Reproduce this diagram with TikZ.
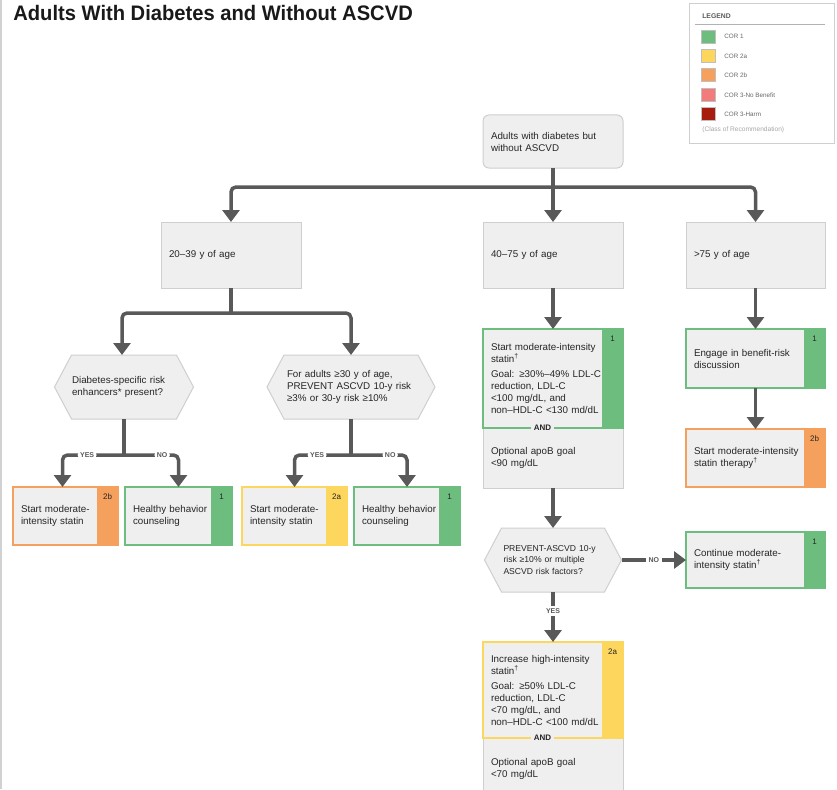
\documentclass[tikz,border=0pt]{standalone}
\usepackage{fontspec}
\setmainfont{Liberation Sans}
\newfontfamily\titlefont[FakeStretch=0.96]{Liberation Sans}
\usetikzlibrary{positioning,arrows.meta,shapes.symbols}

\definecolor{boxfill}{HTML}{EFEFEF}
\definecolor{boxline}{HTML}{CFCFCF}
\definecolor{flowgray}{HTML}{595959}
\definecolor{corone}{HTML}{6DBE7E}
\definecolor{cortwoa}{HTML}{FDD65E}
\definecolor{cortwob}{HTML}{F6A05D}
\definecolor{cornb}{HTML}{F27B7B}
\definecolor{corharm}{HTML}{A71C0C}

\newcommand{\dagmark}{\textsuperscript{†}}

\begin{document}
\begin{tikzpicture}[x=1pt, y=-1pt,
  every node/.style={outer sep=0pt, font=\fontsize{9.8}{12}\selectfont, text=black!85},
  plain/.style={draw=boxline, fill=boxfill, line width=1pt, minimum width=140pt,
    text width=124pt, align=left, inner xsep=8pt, anchor=north west},
  corlbl/.style={anchor=north, xshift=-10.5pt, yshift=-6pt, inner sep=1pt,
    font=\fontsize{8}{9}\selectfont},
  cor/.style n args={2}{draw=#1, fill=boxfill, line width=1.4pt, minimum width=139pt,
    text width=123pt, align=left, inner xsep=8pt, anchor=north west,
    label={[corlbl]north east:#2},
    path picture={
      \fill[#1] ([xshift=-21pt]path picture bounding box.north east)
        rectangle (path picture bounding box.south east);}},
  hexa/.style={signal, signal to=west and east, draw=boxline, fill=boxfill,
    line width=1pt, align=left, inner xsep=0pt, inner ysep=0pt},
  andlbl/.style={fill=boxfill, font=\bfseries\fontsize{8}{9}\selectfont, inner xsep=3pt, inner ysep=1pt},
  flow/.style={draw=flowgray, line width=3.5pt, -{Triangle[width=17pt,length=12pt]}},
  link/.style={draw=flowgray, line width=3.5pt},
  yesno/.style={fill=white, font=\bfseries\fontsize{7}{8}\selectfont, text=flowgray, inner sep=2.5pt},
  swatch/.style={draw=black!25, line width=0.6pt, minimum width=14pt, minimum height=13pt, inner sep=0pt},
  legtext/.style={font=\fontsize{6.3}{7}\selectfont, text=black!60, anchor=west}
  ]
\useasboundingbox (0,0) rectangle (837,789);
\draw[black!18, line width=1.2pt] (1,0) -- (1,789);

% title and legend
\node[anchor=base west, font=\titlefont\bfseries\fontsize{21}{24}\selectfont, text=black!90] (title) at (10,20.5)
  {Adults With Diabetes and Without ASCVD};

\node[draw=boxline, line width=1pt, minimum width=145pt, minimum height=139pt, anchor=north west] (legend) at (689,4) {};
\node[anchor=west, font=\bfseries\fontsize{6.8}{7}\selectfont, text=black!65] (legtitle) at (699,16) {LEGEND};
\draw[black!30, line width=1pt] ([shift={(6,21)}]legend.north west) -- ([shift={(-9,21)}]legend.north east);
\node[swatch, fill=corone] (sw1) at (708,36.5) {};
\node[legtext, right=6pt of sw1] (lg1) {COR 1};
\node[swatch, fill=cortwoa] (sw2) at (708,56) {};
\node[legtext, right=6pt of sw2] (lg2) {COR 2a};
\node[swatch, fill=cortwob] (sw3) at (708,75) {};
\node[legtext, right=6pt of sw3] (lg3) {COR 2b};
\node[swatch, fill=cornb] (sw4) at (708,95) {};
\node[legtext, right=6pt of sw4] (lg4) {COR 3-No Benefit};
\node[swatch, fill=corharm] (sw5) at (708,114) {};
\node[legtext, right=6pt of sw5] (lg5) {COR 3-Harm};
\node[legtext, text=black!35, font=\fontsize{6.6}{7}\selectfont] (legnote) at (699,130) {(Class of Recommendation)};

% top and age groups
\node[plain, rounded corners=6pt, minimum height=53pt] (top) at (483,115) {Adults with diabetes but\\without ASCVD};
\node[plain, minimum height=66pt] (ageA) at (161,222) {20–39 y of age};
\node[plain, minimum height=66pt] (ageB) at (483,222) {40–75 y of age};
\node[plain, minimum height=66pt, minimum width=139pt, text width=123pt] (ageC) at (686,222) {>75 y of age};

% 20-39 branch
\node[hexa, minimum width=139pt, minimum height=64pt, text width=104pt, signal pointer angle=124] (riskA) at (124,387)
  {Diabetes-specific risk\\enhancers* present?};
\node[hexa, minimum width=168pt, minimum height=64pt, text width=128pt, signal pointer angle=124] (riskB) at (351,387)
  {For adults ≥30 y of age,\\PREVENT ASCVD 10-y risk\\≥3\% or 30-y risk ≥10\%};

\node[cor={cortwob}{2b}, minimum width=105pt, text width=89pt, minimum height=58pt] (statA) at (13,487)
  {Start moderate-\\intensity statin};
\node[cor={corone}{1}, minimum width=107pt, text width=91pt, minimum height=58pt] (healthA) at (125,487)
  {Healthy behavior\\counseling};
\node[cor={cortwoa}{2a}, minimum width=105pt, text width=89pt, minimum height=58pt] (statB) at (242,487)
  {Start moderate-\\intensity statin};
\node[cor={corone}{1}, minimum width=106pt, text width=90pt, minimum height=58pt] (healthB) at (354,487)
  {Healthy behavior\\counseling};

% 40-75 branch
\node[plain, minimum height=60pt] (apoA) at (483,428) {Optional apoB goal\\<90 mg/dL};
\node[cor={corone}{1}, minimum width=140pt, text width=124pt, minimum height=99pt] (modB) at (483,329)
  {Start moderate-intensity\\statin\dagmark\\[3pt]Goal: ≥30\%–49\% LDL-C\\reduction, LDL-C\\<100 mg/dL, and\\non–HDL-C <130 md/dL};
\node[andlbl] (andA) at ([xshift=-10.5pt]modB.south) {AND};

\node[hexa, minimum width=137pt, minimum height=64pt, text width=99pt, signal pointer angle=124,
  font=\fontsize{8.6}{11.5}\selectfont] (riskC) at (553,560)
  {PREVENT-ASCVD 10-y\\risk ≥10\% or multiple\\ASCVD risk factors?};
\node[cor={corone}{1}, minimum height=56pt] (contC) at (686,532) {Continue moderate-\\intensity statin\dagmark};

\node[plain, minimum height=62pt] (apoB) at (483,738) {Optional apoB goal\\<70 mg/dL};
\node[cor={cortwoa}{2a}, minimum width=140pt, text width=124pt, minimum height=96pt] (highB) at (483,642)
  {Increase high-intensity\\statin\dagmark\\[3pt]Goal: ≥50\% LDL-C\\reduction, LDL-C\\<70 mg/dL, and\\non–HDL-C <100 md/dL};
\node[andlbl] (andB) at ([xshift=-10.5pt]highB.south) {AND};

% >75 branch
\node[cor={corone}{1}, minimum height=59pt] (engC) at (686,329) {Engage in benefit-risk\\discussion};
\node[cor={cortwob}{2b}, minimum height=58pt] (statC) at (686,429) {Start moderate-intensity\\statin therapy\dagmark};

% connectors
\draw[link] (top.south) -- ++(0,19) coordinate (split);
\draw[flow] (split) -- (ageB.north);
\draw[flow, rounded corners=5pt] (split) -| (ageA.north);
\draw[flow, rounded corners=5pt] (split) -| (ageC.north);

\draw[link] (ageA.south) -- ++(0,25) coordinate (splitA);
\draw[flow, rounded corners=5pt] (splitA) -| ([xshift=-2pt]riskA.north);
\draw[flow, rounded corners=5pt] (splitA) -| (riskB.north);

\draw[link] (riskA.south) -- ++(0,36) coordinate (splitL);
\draw[flow, rounded corners=5pt] (splitL) -| node[yesno, pos=0.3] {YES} ([xshift=-3pt]statA.north);
\draw[flow, rounded corners=5pt] (splitL) -| node[yesno, pos=0.35] {NO} (healthA.north);
\draw[link] (riskB.south) -- ++(0,36) coordinate (splitM);
\draw[flow, rounded corners=5pt] (splitM) -| node[yesno, pos=0.3] {YES} (statB.north);
\draw[flow, rounded corners=5pt] (splitM) -| node[yesno, pos=0.35] {NO} (healthB.north);

\draw[flow] (ageB.south) -- (modB.north);
\draw[flow] (apoA.south) -- (riskC.north);
\draw[flow] (riskC.east) -- node[yesno] {NO} (contC.west);
\draw[flow] (riskC.south) -- node[yesno, pos=0.38] {YES} (highB.north);

\draw[flow] (ageC.south) -- (engC.north);
\draw[flow] (engC.south) -- (statC.north);
\end{tikzpicture}
\end{document}
